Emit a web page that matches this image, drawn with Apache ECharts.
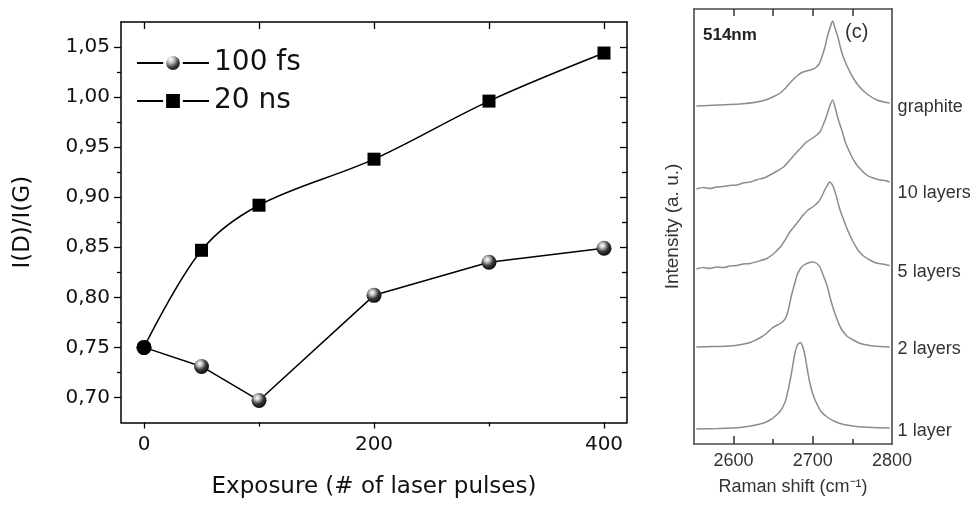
<!DOCTYPE html>
<html>
<head>
<meta charset="utf-8">
<script src="https://cdn.jsdelivr.net/npm/echarts@6/dist/echarts.min.js"></script>
<style>
html,body{margin:0;padding:0;background:#fff;}
#c{width:971px;height:506px;}
</style>
</head>
<body>
<div id="c"></div>
<script>
// ---- Left panel data ----
const exposure = [0, 50, 100, 200, 300, 400];
const ratio100fs = [0.750, 0.731, 0.697, 0.802, 0.835, 0.849];
const ratio20ns = [0.750, 0.847, 0.892, 0.938, 0.996, 1.044];
const seriesNames = ['100 fs', '20 ns'];
const xMajorTicks = [0, 200, 400];
const xMinorTicks = [100, 300];
const xTopTicks = [0, 100, 200, 300, 400];
const yMajorTicks = [0.70, 0.75, 0.80, 0.85, 0.90, 0.95, 1.00, 1.05];
const yMinorTicks = [0.725, 0.775, 0.825, 0.875, 0.925, 0.975, 1.025];

// ---- Right panel data (Raman shift, intensity a.u. with offsets) ----
const spectraNames = ['graphite', '10 layers', '5 layers', '2 layers', '1 layer'];
const ramanTicks = [2600, 2700, 2800];
const ramanMinorTicks = [2650, 2750];
const ramanTopTicks = [2600, 2650, 2700, 2750];
const specGraphite = [[2553,338],[2580,339],[2608,340],[2630,342],[2642,344.5],[2652,348],[2659,351],[2665,355.5],[2671,361],[2676,365],[2680,368],[2685,371],[2690,372.5],[2697,374],[2703,376],[2708,380],[2711,386],[2715,396],[2718,406],[2722,417],[2725,423],[2728,416],[2732,406],[2735,396],[2739,386],[2745,375],[2751,366],[2757,359],[2764,353],[2772,348],[2781,344],[2790,342],[2797,341]];
const spec10 = [[2553,255],[2562,256.5],[2570,255.5],[2578,257],[2587,257.5],[2595,258.5],[2604,259],[2612,261],[2621,262],[2630,264.5],[2638,266],[2646,269],[2655,273],[2663,277],[2671,284],[2680,292],[2686,297],[2692,302],[2698,305],[2705,309],[2709,312],[2713,319],[2717,327],[2721,337],[2725,344],[2729,334],[2732,325],[2737,313],[2741,302],[2747,291],[2753,282],[2760,275],[2768,269],[2776,266],[2785,264],[2791,263.5],[2797,262]];
const spec5 = [[2553,175],[2562,176.5],[2570,175.5],[2578,177],[2587,176.5],[2595,178],[2604,178.5],[2612,180],[2621,180.5],[2630,182.5],[2642,185.5],[2650,190],[2659,197],[2665,204],[2671,212],[2678,219],[2684,225],[2689,230],[2694,234],[2700,237],[2707,242],[2711,247],[2715,254],[2718,258],[2721,262],[2724,260],[2726,257],[2730,247],[2734,235],[2740,222],[2745,212],[2751,202],[2757,194],[2764,188],[2772,184],[2780,181],[2788,180],[2797,178.5]];
const spec2 = [[2553,97],[2575,97.5],[2595,98],[2610,99.5],[2621,101.5],[2628,104],[2635,107],[2642,111],[2648,115.5],[2654,118.5],[2659,120.5],[2664,124],[2667,128.5],[2670,137],[2673,148.5],[2677,160],[2680,168.5],[2684,175],[2688,178.5],[2694,181],[2700,182],[2705,180.5],[2709,177],[2713,169],[2718,158.5],[2722,146],[2726,135],[2731,124],[2736,115],[2743,108],[2751,104],[2760,100.5],[2772,98.5],[2785,97.5],[2797,97]];
const spec1 = [[2553,15],[2580,15.5],[2608,16.5],[2625,18.5],[2638,21],[2646,24],[2652,27.5],[2659,33],[2665,42],[2668,51],[2671,62],[2674,75],[2677,89],[2680,98],[2684,101.5],[2687,98],[2690,89],[2693,75],[2696,62],[2700,50],[2704,42],[2710,33],[2718,27],[2728,22.5],[2739,19.5],[2755,17.5],[2775,16.5],[2797,16]];
const spectra = [specGraphite, spec10, spec5, spec2, spec1];
const endLabelOffsets = [[0,4],[0,11],[0,7],[0,2],[0,3]];

const chart = echarts.init(document.getElementById('c'));
const LF = 'DejaVu Sans';
const RF = 'Liberation Sans';
const fmt = v => Number(v).toFixed(2).replace('.', ',');
const plain = v => String(Math.round(v));

const sphere = {
  type: 'radial', x: 0.38, y: 0.32, r: 0.75,
  colorStops: [
    {offset: 0, color: '#ffffff'},
    {offset: 0.22, color: '#c8c8c8'},
    {offset: 0.55, color: '#3a3a3a'},
    {offset: 1, color: '#000000'}
  ]
};

const hide = {show: false};
const blackLine = {show: true, onZero: false, lineStyle: {color: '#000', width: 1.5}};
const grayLine = {show: true, onZero: false, lineStyle: {color: '#4a4a4a', width: 1.6}};
const noLine = {show: false, onZero: false};

const xAxes = [
  // left grid
  {gridIndex: 0, type: 'value', position: 'bottom', min: -20, max: 420,
   axisLine: blackLine, splitLine: hide,
   axisTick: {show: true, inside: false, length: 6, customValues: xMajorTicks, lineStyle: {color: '#000', width: 1.3}},
   axisLabel: {show: true, customValues: xMajorTicks, formatter: plain, margin: 12, fontFamily: LF, fontSize: 20, color: '#111'},
   name: 'Exposure (# of laser pulses)', nameLocation: 'middle', nameGap: 53,
   nameTextStyle: {fontFamily: LF, fontSize: 23, color: '#111'}},
  {gridIndex: 0, type: 'value', position: 'bottom', min: -20, max: 420,
   axisLine: noLine, splitLine: hide, axisLabel: hide,
   axisTick: {show: true, inside: false, length: 4, customValues: xMinorTicks, lineStyle: {color: '#000', width: 1.3}}},
  {gridIndex: 0, type: 'value', position: 'top', min: -20, max: 420,
   axisLine: blackLine, splitLine: hide, axisLabel: hide,
   axisTick: {show: true, inside: true, length: 7, customValues: xTopTicks, lineStyle: {color: '#000', width: 1.3}}},
  // right grid
  {gridIndex: 1, type: 'value', position: 'bottom', min: 2550, max: 2800,
   axisLine: grayLine, splitLine: hide,
   axisTick: {show: true, inside: true, length: 8, customValues: [2600, 2700], lineStyle: {color: '#333', width: 1.5}},
   axisLabel: {show: true, customValues: ramanTicks, formatter: plain, margin: 8, fontFamily: RF, fontSize: 18, color: '#333'},
   name: 'Raman shift (cm\u207B\u00B9)', nameLocation: 'middle', nameGap: 34,
   nameTextStyle: {fontFamily: RF, fontSize: 18, color: '#333'}},
  {gridIndex: 1, type: 'value', position: 'bottom', min: 2550, max: 2800,
   axisLine: noLine, splitLine: hide, axisLabel: hide,
   axisTick: {show: true, inside: true, length: 5, customValues: ramanMinorTicks, lineStyle: {color: '#333', width: 1.5}}},
  {gridIndex: 1, type: 'value', position: 'top', min: 2550, max: 2800,
   axisLine: grayLine, splitLine: hide, axisLabel: hide,
   axisTick: {show: true, inside: true, length: 7, customValues: ramanTopTicks, lineStyle: {color: '#333', width: 1.5}}}
];

const yAxes = [
  {gridIndex: 0, type: 'value', position: 'left', min: 0.675, max: 1.075,
   axisLine: blackLine, splitLine: hide,
   axisTick: {show: true, inside: false, length: 7, customValues: yMajorTicks, lineStyle: {color: '#000', width: 1.3}},
   axisLabel: {show: true, customValues: yMajorTicks, formatter: fmt, margin: 11, fontFamily: LF, fontSize: 20, color: '#111'},
   name: 'I(D)/I(G)', nameLocation: 'middle', nameGap: 86, nameRotate: 90,
   nameTextStyle: {fontFamily: LF, fontSize: 23, color: '#111'}},
  {gridIndex: 0, type: 'value', position: 'left', min: 0.675, max: 1.075,
   axisLine: noLine, splitLine: hide, axisLabel: hide,
   axisTick: {show: true, inside: false, length: 4, customValues: yMinorTicks, lineStyle: {color: '#000', width: 1.3}}},
  {gridIndex: 0, type: 'value', position: 'right', min: 0.675, max: 1.075,
   axisLine: blackLine, splitLine: hide, axisLabel: hide,
   axisTick: {show: true, inside: true, length: 7, customValues: yMajorTicks, lineStyle: {color: '#000', width: 1.3}}},
  {gridIndex: 0, type: 'value', position: 'right', min: 0.675, max: 1.075,
   axisLine: noLine, splitLine: hide, axisLabel: hide,
   axisTick: {show: true, inside: true, length: 5, customValues: yMinorTicks, lineStyle: {color: '#000', width: 1.3}}},
  {gridIndex: 1, type: 'value', position: 'left', min: 0, max: 435,
   axisLine: grayLine, splitLine: hide, axisLabel: hide, axisTick: hide,
   name: 'Intensity (a. u.)', nameLocation: 'middle', nameGap: 12, nameRotate: 90,
   nameTextStyle: {fontFamily: RF, fontSize: 19, color: '#333'}},
  {gridIndex: 1, type: 'value', position: 'right', min: 0, max: 435,
   axisLine: grayLine, splitLine: hide, axisLabel: hide, axisTick: hide}
];

const series = [
  {name: seriesNames[0], type: 'line', xAxisIndex: 0, yAxisIndex: 0,
   data: exposure.map((x, i) => [x, ratio100fs[i]]),
   symbol: 'circle', symbolSize: 15, smooth: false,
   lineStyle: {color: '#000', width: 1.5},
   itemStyle: {color: sphere, borderWidth: 0}, z: 3},
  {name: seriesNames[1], type: 'line', xAxisIndex: 0, yAxisIndex: 0,
   data: exposure.map((x, i) => i === 0 ? {value: [x, ratio20ns[i]], symbol: 'circle', symbolSize: 15} : [x, ratio20ns[i]]),
   symbol: 'rect', symbolSize: 13, smooth: 0.35,
   lineStyle: {color: '#000', width: 1.5},
   itemStyle: {color: '#000', borderWidth: 0}, z: 4}
];

spectra.forEach((d, i) => {
  series.push({
    name: spectraNames[i], type: 'line', xAxisIndex: 3, yAxisIndex: 4,
    data: d, showSymbol: false, symbol: 'none', smooth: 0.25,
    lineStyle: {color: '#8c8c8c', width: 1.5},
    endLabel: {show: true, formatter: spectraNames[i], distance: 8, offset: endLabelOffsets[i],
      fontFamily: RF, fontSize: 18, color: '#333'},
    animation: false
  });
});

chart.setOption({
  animation: false,
  backgroundColor: '#fff',
  grid: [
    {left: 121, right: 344, top: 22, bottom: 83.5},
    {left: 694, right: 79, top: 9, bottom: 62}
  ],
  legend: {
    data: seriesNames, orient: 'vertical', left: 131, top: 44,
    itemWidth: 72, itemHeight: 21, itemGap: 10,
    itemStyle: {borderColor: '#fff', borderWidth: 3},
    textStyle: {fontFamily: LF, fontSize: 28, color: '#111', lineHeight: 28},
    selectedMode: false
  },
  graphic: [
    {type: 'text', left: 703, top: 27, style: {text: '514nm', font: 'bold 17px "Liberation Sans"', fill: '#222'}},
    {type: 'text', left: 845, top: 22, style: {text: '(c)', font: '20px "Liberation Sans"', fill: '#333'}}
  ],
  xAxis: xAxes,
  yAxis: yAxes,
  series: series
});
</script>
</body>
</html>
